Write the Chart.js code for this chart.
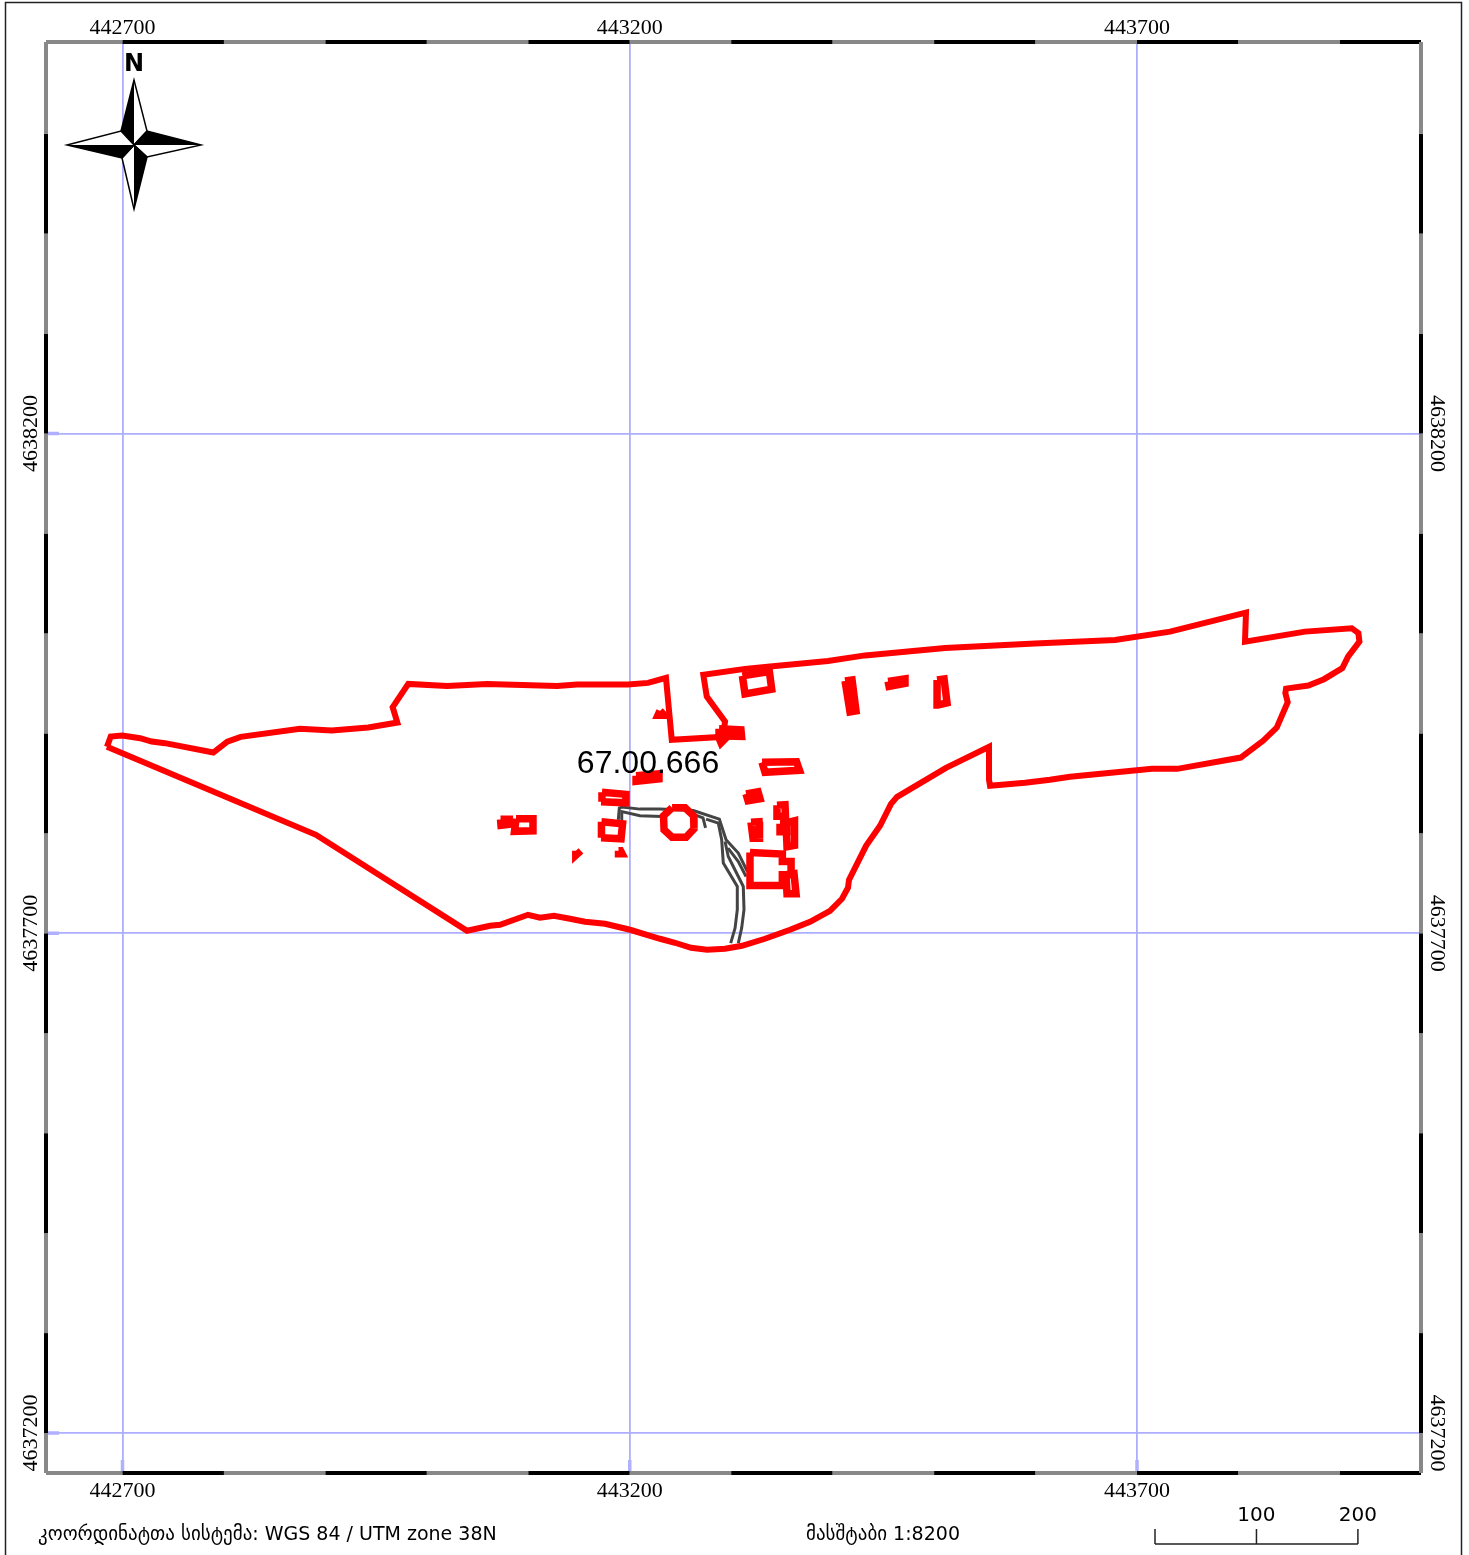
<!DOCTYPE html>
<html>
<head>
<meta charset="utf-8">
<title>67.00.666</title>
<script src="https://cdn.jsdelivr.net/npm/chart.js@4/dist/chart.umd.min.js"></script>
<style>
    html, body { margin: 0; padding: 0; background: #fff; }
    canvas { display: block; }
</style>
</head>
<body>
<canvas id="mapChart" width="1469" height="1555"></canvas>
<script>
// UTM 38N, all points are [easting - eastBase, northing - northBase] in metres
const eastBase = 442000;
const northBase = 4637000;

const eastRange = [442624.6, 443979.9];
const northRange = [4637160, 4638591.7];
const eastTicks = [442700, 443200, 443700];
const northTicks = [4637200, 4637700, 4638200];

const parcelLabel = '67.00.666';
const parcelLabelAt = [1218, 869.5];
const crsText = 'კოორდინატთა სისტემა: WGS 84 / UTM zone 38N';
const scaleText = 'მასშტაბი 1:8200';
const scaleBarTicks = [0, 100, 200];

const boundary = [
    [684.7, 886.5], [688.4, 896.8], [699.8, 897.8], [717.3, 895.2], [728.8, 891.8], [741.9, 890.2],
    [789.5, 880.8], [803.3, 891.8], [816.5, 896.5], [875, 904.5], [906.2, 902.8], [942.3, 905.8],
    [970.9, 910.8], [966.3, 926.2], [981.7, 949.5], [1019.9, 947.5], [1059.3, 949.5], [1128.3, 947.5],
    [1148, 949], [1198.3, 949], [1218, 950.5], [1235.7, 955.5], [1241.4, 893.5], [1291.9, 896.5],
    [1293.9, 911.8], [1275.9, 936.8], [1272.5, 958.5], [1313.6, 964.5], [1338.2, 966.8], [1395.4, 972.5],
    [1431.9, 978], [1510.8, 985.5], [1599.5, 990], [1678.3, 993.5], [1732.5, 1001.8], [1807.4, 1020.8],
    [1806.4, 991.8], [1865.6, 1001.8], [1911.6, 1005.2], [1918.2, 1000.2], [1919.2, 991.8], [1908, 976.8],
    [1902.4, 965.2], [1884.3, 954.2], [1868.9, 947.8], [1846.9, 944.8], [1846.2, 940.2], [1848.5, 931.2],
    [1837.7, 905.8], [1824.5, 892.8], [1802.2, 875.8], [1739.7, 864.5], [1714.8, 864.5], [1634, 856.5],
    [1614.2, 853.5], [1589.6, 850.5], [1555.1, 847.5], [1554.1, 853.5], [1554.1, 886.5], [1511.7, 865.5],
    [1463.5, 836.5], [1457.5, 829.5], [1446.7, 807.5], [1432.9, 787.5], [1416.1, 753.5], [1415.1, 745.5],
    [1409.2, 734.5], [1397.4, 722.5], [1377.7, 711.5], [1358, 703.5], [1333.3, 694.5], [1310.6, 687.5],
    [1293.9, 684.5], [1276.2, 683.5], [1260.4, 685.5], [1244.6, 690.5], [1229.8, 694.5], [1200.3, 703.5],
    [1175.6, 709.5], [1155.9, 711.5], [1141.1, 714.5], [1125.3, 717.5], [1111.5, 715.5], [1099.7, 718.5],
    [1072.1, 708.5], [1062.3, 707.5], [1039.6, 702.5], [890.7, 798.5]
];

const buildings = [
    [[1311, 957.5], [1337.6, 961.8], [1339.9, 944.2], [1313.6, 939.5]],
    [[1412.2, 952.5], [1419.1, 953.5], [1423, 922.5], [1417.1, 921.5]],
    [[1454.6, 952], [1471.3, 954.5], [1471.3, 950], [1455.6, 947]],
    [[1502.9, 953.5], [1509.8, 954.5], [1512.7, 930.5], [1503.8, 928.5]],
    [[1288, 904.5], [1309.6, 903.5], [1310.2, 897], [1288, 897.5]],
    [[1288, 895.5], [1294.9, 895.5], [1290, 890.5]],
    [[1330.4, 871], [1364.4, 871.5], [1367.3, 863], [1333.3, 861]],
    [[1314.6, 839.5], [1326.4, 841.5], [1328.4, 834.5], [1316.6, 832.5]],
    [[1345.1, 828], [1353, 828.5], [1353.5, 817], [1345.1, 817]],
    [[1354, 810.5], [1362.4, 812.5], [1362.4, 788], [1355, 786.5]],
    [[1348.1, 809.5], [1355, 809.5], [1355, 801.5], [1348.1, 801.5]],
    [[1319.5, 811], [1327.4, 811.5], [1327.9, 795], [1321.5, 795]],
    [[1318.5, 780.8], [1350.4, 779.2], [1350.4, 771.8], [1359, 771.8], [1359, 758.5], [1350.4, 758.5], [1350.4, 747.8], [1318.5, 747.8]],
    [[1354, 758.5], [1361.9, 759.5], [1363.9, 739.5], [1355, 739.5]],
    [[1229.8, 922.5], [1233.8, 918], [1227.8, 918]],
    [[1206.2, 857.5], [1228.8, 859.5], [1228.8, 854.5], [1206.2, 852]],
    [[1172.6, 841], [1196.3, 839], [1196.3, 830.5], [1171.7, 831.5]],
    [[1172.1, 811.5], [1192.9, 809.5], [1191.4, 794.5], [1171.7, 795.5]],
    [[1072.6, 814], [1081, 814], [1080.5, 809], [1073.1, 808]],
    [[1087.9, 814.5], [1104.6, 814.5], [1104.6, 802.5], [1086.4, 802]],
    [[1146.8, 782.5], [1149, 780], [1146.8, 778]],
    [[1188.9, 782.5], [1190.9, 782.5], [1192.4, 779.5], [1188.9, 779.5]],
    [[1241.7, 825.5], [1254.5, 825.5], [1262.9, 817.5], [1263.3, 804.5], [1255.5, 796], [1241.7, 796], [1233.8, 803.5], [1233.3, 817.5]]
];

const roads = [
    [[1188.7, 813.5], [1189.7, 825.2], [1192.1, 826.2], [1210.1, 824.2], [1229.8, 824.2], [1262.6, 822.8], [1288.3, 814.2], [1294.9, 793.5], [1307, 780.2], [1315.9, 761.8]],
    [[1191.4, 813.5], [1192.1, 821.8], [1210.1, 817.5], [1231.5, 816.8]],
    [[1264.3, 818.5], [1272.2, 815.5], [1274.7, 805.5]],
    [[1275.2, 814.2], [1287.3, 810.2], [1290.6, 793.5], [1292.2, 770.2], [1306, 746.8], [1306, 723.5], [1303.8, 705.2], [1299.5, 690.2]],
    [[1293.9, 791.8], [1297.1, 776.8], [1311.9, 746.8], [1312.6, 723.5], [1310.3, 705.2], [1307, 690.2]],
    [[1296.8, 785.2], [1307, 771.8], [1314.6, 756.8]]
];

const toPoints = (pts) => pts.map((p) => ({ x: eastBase + p[0], y: northBase + p[1] }));
const closeRing = (pts) => pts.concat([pts[0]]);

const redLine = (width) => (pts) => ({
    data: toPoints(closeRing(pts)),
    showLine: true,
    fill: false,
    borderColor: '#ff0000',
    borderWidth: width,
    borderJoinStyle: 'miter',
    pointRadius: 0,
    order: 1
});
const roadLine = (pts) => ({
    data: toPoints(pts),
    showLine: true,
    fill: false,
    borderColor: '#444444',
    borderWidth: 3,
    borderJoinStyle: 'miter',
    pointRadius: 0,
    order: 2
});

// frame, compass, scale bar and captions
const mapDecor = {
    id: 'mapDecor',
    afterDraw(chart) {
        const c = chart.ctx;
        const area = chart.chartArea;
        const xs = chart.scales.x;
        const ys = chart.scales.y;
        c.save();

        // page border
        c.strokeStyle = '#222';
        c.lineWidth = 1.5;
        c.beginPath();
        c.moveTo(5.5, 1555);
        c.lineTo(5.5, 2.5);
        c.lineTo(1461.5, 2.5);
        c.lineTo(1461.5, 1555);
        c.stroke();

        // thick stubs of the grid at the bottom and left edge
        c.strokeStyle = '#b0b0ff';
        c.lineWidth = 3.5;
        eastTicks.forEach((v) => {
            const px = xs.getPixelForValue(v);
            c.beginPath();
            c.moveTo(px, area.bottom - 13);
            c.lineTo(px, area.bottom);
            c.stroke();
        });
        northTicks.forEach((v) => {
            const py = ys.getPixelForValue(v);
            c.beginPath();
            c.moveTo(area.left, py);
            c.lineTo(area.left + 13, py);
            c.stroke();
        });

        // checkered frame, one piece per 100 m
        c.lineWidth = 4;
        for (let e = 442600; e < eastRange[1]; e += 100) {
            const a = xs.getPixelForValue(Math.max(e, eastRange[0]));
            const b = xs.getPixelForValue(Math.min(e + 100, eastRange[1]));
            c.strokeStyle = ((e - 442700) / 100) % 2 === 0 ? '#000' : '#888';
            [area.top, area.bottom].forEach((py) => {
                c.beginPath();
                c.moveTo(a, py);
                c.lineTo(b, py);
                c.stroke();
            });
        }
        for (let n = 4637100; n < northRange[1]; n += 100) {
            const a = ys.getPixelForValue(Math.max(n, northRange[0]));
            const b = ys.getPixelForValue(Math.min(n + 100, northRange[1]));
            c.strokeStyle = ((n - 4637200) / 100) % 2 === 0 ? '#000' : '#888';
            [area.left, area.right].forEach((px) => {
                c.beginPath();
                c.moveTo(px, a);
                c.lineTo(px, b);
                c.stroke();
            });
        }

        // parcel number
        c.fillStyle = '#000';
        c.font = '32px "Liberation Sans"';
        c.textAlign = 'center';
        c.textBaseline = 'middle';
        c.fillText(parcelLabel,
            xs.getPixelForValue(eastBase + parcelLabelAt[0]),
            ys.getPixelForValue(northBase + parcelLabelAt[1]));

        // north arrow
        c.font = 'bold 24px "DejaVu Sans"';
        c.fillText('N', 134, 65);
        const cx = 134, cy = 145;
        const blades = [
            [[0, -65], [-13, -14], [13, -14]],
            [[67, 0], [13, -14], [13, 12]],
            [[0, 64], [13, 12], [-12, 13]],
            [[-67, 0], [-12, 13], [-13, -14]]
        ];
        c.strokeStyle = '#000';
        c.lineWidth = 1.5;
        c.lineJoin = 'miter';
        blades.forEach((b) => {
            c.fillStyle = '#fff';
            c.beginPath();
            c.moveTo(cx, cy);
            c.lineTo(cx + b[1][0], cy + b[1][1]);
            c.lineTo(cx + b[0][0], cy + b[0][1]);
            c.lineTo(cx + b[2][0], cy + b[2][1]);
            c.closePath();
            c.fill();
            c.stroke();
            c.fillStyle = '#000';
            c.beginPath();
            c.moveTo(cx, cy);
            c.lineTo(cx + b[1][0], cy + b[1][1]);
            c.lineTo(cx + b[0][0], cy + b[0][1]);
            c.closePath();
            c.fill();
        });

        // captions
        c.fillStyle = '#000';
        c.textAlign = 'left';
        c.textBaseline = 'alphabetic';
        c.font = '19px "DejaVu Sans"';
        c.fillText(crsText, 38, 1540);
        c.fillText(scaleText, 806, 1540);

        // scale bar
        const metre = xs.getPixelForValue(eastRange[0] + 1) - xs.getPixelForValue(eastRange[0]);
        const barLeft = 1155;
        c.strokeStyle = '#222';
        c.lineWidth = 1.5;
        c.beginPath();
        c.moveTo(barLeft, 1544);
        c.lineTo(barLeft + 200 * metre, 1544);
        c.stroke();
        c.textAlign = 'center';
        c.font = '20px "DejaVu Sans"';
        scaleBarTicks.forEach((v) => {
            const px = barLeft + v * metre;
            c.beginPath();
            c.moveTo(px, 1529);
            c.lineTo(px, 1544);
            c.stroke();
            if (v > 0) {
                c.fillText(String(v), px, 1521);
            }
        });
        c.restore();
    }
};

const tickFont = { family: '"Liberation Serif"', size: 22 };
const noGrid = { display: false, drawTicks: false };

function fixedTicks(values) {
    return function (scale) {
        scale.ticks = values.map((v) => ({ value: v }));
    };
}

new Chart(document.getElementById('mapChart').getContext('2d'), {
    type: 'scatter',
    data: {
        datasets: [boundary].map(redLine(6)).concat(buildings.map(redLine(7.5))).concat(roads.map(roadLine))
    },
    plugins: [mapDecor],
    options: {
        responsive: false,
        animation: false,
        layout: { padding: 0 },
        plugins: { legend: { display: false }, tooltip: { enabled: false } },
        scales: {
            x: {
                type: 'linear', position: 'bottom', min: eastRange[0], max: eastRange[1],
                afterBuildTicks: fixedTicks(eastTicks),
                afterFit(s) { s.height = 82; },
                grid: { color: '#aeaeff', lineWidth: 1.8, drawTicks: false },
                border: { display: false },
                ticks: { color: '#000', font: tickFont, padding: 5, autoSkip: false, maxRotation: 0, callback: (v) => String(v) }
            },
            xTop: {
                type: 'linear', axis: 'x', position: 'top', min: eastRange[0], max: eastRange[1],
                afterBuildTicks: fixedTicks(eastTicks),
                afterFit(s) { s.height = 42; },
                grid: noGrid,
                border: { display: false },
                ticks: { color: '#000', font: tickFont, padding: 1, autoSkip: false, maxRotation: 0, callback: (v) => String(v) }
            },
            y: {
                type: 'linear', position: 'left', min: northRange[0], max: northRange[1],
                afterBuildTicks: fixedTicks(northTicks),
                afterFit(s) { s.width = 46; },
                grid: { color: '#aeaeff', lineWidth: 1.8, drawTicks: false },
                border: { display: false },
                ticks: { color: '#000', font: tickFont, padding: -24, crossAlign: 'center', autoSkip: false, minRotation: 90, maxRotation: 90, callback: (v) => String(v) }
            },
            yRight: {
                type: 'linear', axis: 'y', position: 'right', min: northRange[0], max: northRange[1],
                afterBuildTicks: fixedTicks(northTicks),
                afterFit(s) { s.width = 48; },
                grid: noGrid,
                border: { display: false },
                ticks: { color: '#000', font: tickFont, padding: -23, crossAlign: 'center', autoSkip: false, minRotation: -90, maxRotation: -90, callback: (v) => String(v) }
            }
        }
    }
});
</script>
</body>
</html>
